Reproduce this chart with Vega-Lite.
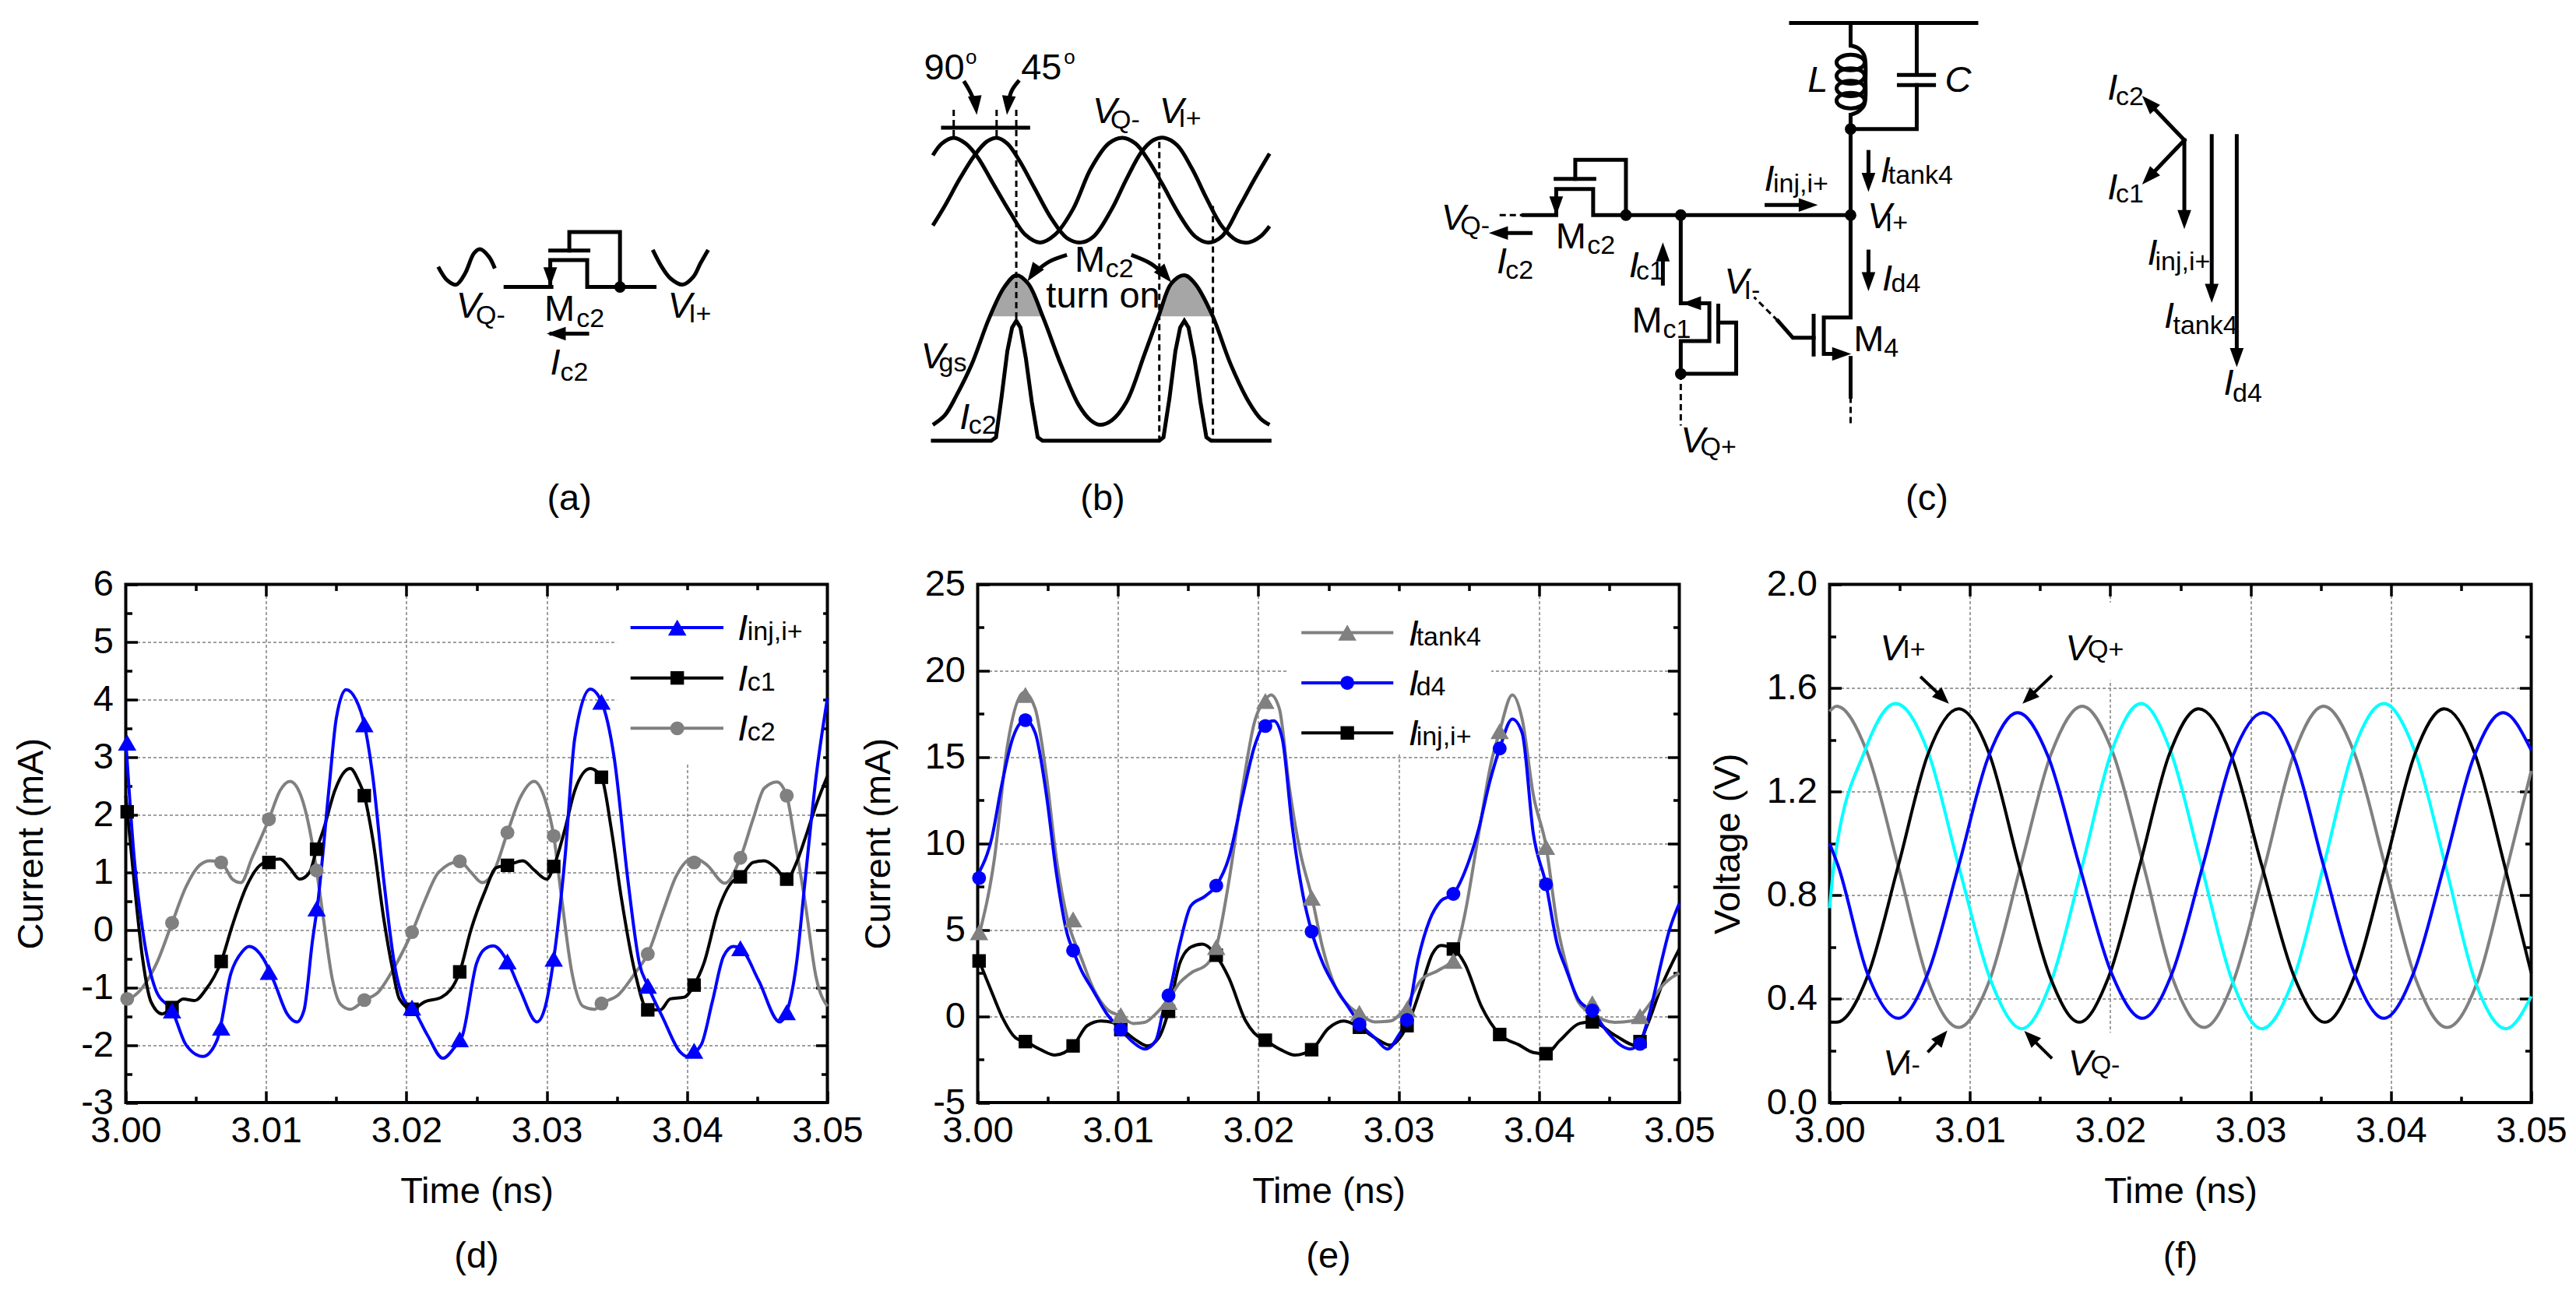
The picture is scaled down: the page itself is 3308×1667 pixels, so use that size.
{"$schema":"https://vega.github.io/schema/vega-lite/v6.json","padding":{"left":14.5,"top":0,"right":0,"bottom":0},"background":"white","bounds":"flush","spacing":70.5,
"config":{"view":{"stroke":"#000","strokeWidth":4},"text":{"font":"Liberation Sans","color":"#000"},"axis":{"labelFont":"Liberation Sans","titleFont":"Liberation Sans","labelFontSize":47,"titleFontSize":47,"labelColor":"#000","titleColor":"#000","titleFontWeight":"normal","tickColor":"#000","tickWidth":3.5,"domain":false,"grid":false,"labelOverlap":false,"labelFlush":false}},
"datasets":{
"sLines":[
{"p":"a1","x":193,"y":850},{"p":"a1","x":270,"y":850},
{"p":"a2","x":268,"y":845},{"p":"a2","x":268,"y":770},{"p":"a2","x":330,"y":770},{"p":"a2","x":330,"y":850},{"p":"a2","x":443,"y":850},
{"p":"a3","x":268,"y":742},{"p":"a3","x":332,"y":742},
{"p":"a4","x":300,"y":742},{"p":"a4","x":300,"y":687},{"p":"a4","x":385,"y":687},{"p":"a4","x":385,"y":850},
{"p":"a5","x":330,"y":988},{"p":"a5","x":270,"y":988},
{"p":"b1","x":927,"y":378},{"p":"b1","x":1070,"y":378},
{"p":"b2","x":910,"y":1305},{"p":"b2","x":1008,"y":1305},{"p":"b2","x":1016,"y":1295},{"p":"b2","x":1025,"y":1180},{"p":"b2","x":1035,"y":1040},{"p":"b2","x":1043,"y":970},{"p":"b2","x":1050,"y":950},{"p":"b2","x":1057,"y":970},{"p":"b2","x":1066,"y":1060},{"p":"b2","x":1076,"y":1190},{"p":"b2","x":1086,"y":1295},{"p":"b2","x":1094,"y":1305},{"p":"b2","x":1290,"y":1305},{"p":"b2","x":1297,"y":1295},{"p":"b2","x":1307,"y":1180},{"p":"b2","x":1317,"y":1040},{"p":"b2","x":1325,"y":970},{"p":"b2","x":1332,"y":950},{"p":"b2","x":1339,"y":970},{"p":"b2","x":1349,"y":1060},{"p":"b2","x":1359,"y":1190},{"p":"b2","x":1369,"y":1295},{"p":"b2","x":1377,"y":1305},{"p":"b2","x":1475,"y":1305},
{"p":"c1","x":2350,"y":68},{"p":"c1","x":2661,"y":68},
{"p":"c2","x":2450,"y":68},{"p":"c2","x":2450,"y":135},
{"p":"c3","x":2561,"y":68},{"p":"c3","x":2561,"y":218},
{"p":"c4","x":2531,"y":222},{"p":"c4","x":2590,"y":222},
{"p":"c5","x":2531,"y":252},{"p":"c5","x":2590,"y":252},
{"p":"c6","x":2561,"y":252},{"p":"c6","x":2561,"y":382},{"p":"c6","x":2450,"y":382},
{"p":"c7","x":2450,"y":340},{"p":"c7","x":2450,"y":940},{"p":"c7","x":2405,"y":940},{"p":"c7","x":2405,"y":1048},{"p":"c7","x":2438,"y":1048},
{"p":"c8","x":2450,"y":1060},{"p":"c8","x":2450,"y":1175},
{"p":"c9","x":2388,"y":935},{"p":"c9","x":2388,"y":1050},
{"p":"c10","x":2388,"y":1000},{"p":"c10","x":2353,"y":1000},{"p":"c10","x":2328,"y":950},
{"p":"c11","x":1901,"y":637},{"p":"c11","x":1956,"y":637},{"p":"c11","x":1956,"y":560},{"p":"c11","x":2018,"y":560},{"p":"c11","x":2018,"y":637},{"p":"c11","x":2450,"y":637},
{"p":"c12","x":1955,"y":530},{"p":"c12","x":2020,"y":530},
{"p":"c13","x":1988,"y":530},{"p":"c13","x":1988,"y":473},{"p":"c13","x":2073,"y":473},{"p":"c13","x":2073,"y":637},
{"p":"c14","x":2165,"y":637},{"p":"c14","x":2165,"y":898},{"p":"c14","x":2213,"y":898},{"p":"c14","x":2213,"y":1010},{"p":"c14","x":2165,"y":1010},{"p":"c14","x":2165,"y":1108},
{"p":"c15","x":2228,"y":905},{"p":"c15","x":2228,"y":1012},
{"p":"c16","x":2228,"y":955},{"p":"c16","x":2258,"y":955},{"p":"c16","x":2258,"y":1107},{"p":"c16","x":2165,"y":1107},
{"p":"c17","x":2309,"y":607},{"p":"c17","x":2378,"y":607},
{"p":"c18","x":2480,"y":450},{"p":"c18","x":2480,"y":545},
{"p":"c19","x":2480,"y":745},{"p":"c19","x":2480,"y":840},
{"p":"c20","x":2135,"y":840},{"p":"c20","x":2135,"y":740},
{"p":"c21","x":1913,"y":690},{"p":"c21","x":1859,"y":690},
{"p":"c22","x":3010,"y":415},{"p":"c22","x":2950,"y":304},
{"p":"c23","x":3010,"y":415},{"p":"c23","x":2950,"y":526},
{"p":"c24","x":3010,"y":415},{"p":"c24","x":3010,"y":655},
{"p":"c25","x":3056,"y":403},{"p":"c25","x":3056,"y":875},
{"p":"c26","x":3098,"y":403},{"p":"c26","x":3098,"y":1065}],
"sDash":[
{"p":"d1","x":945,"y":325},{"p":"d1","x":945,"y":408},
{"p":"d2","x":1017,"y":325},{"p":"d2","x":1017,"y":408},
{"p":"d3","x":1050,"y":325},{"p":"d3","x":1050,"y":950},
{"p":"d4","x":1290,"y":420},{"p":"d4","x":1290,"y":1300},
{"p":"d5","x":1380,"y":610},{"p":"d5","x":1380,"y":1300},
{"p":"d6","x":1861,"y":637},{"p":"d6","x":1901,"y":637},
{"p":"d7","x":2328,"y":950},{"p":"d7","x":2288,"y":880},
{"p":"d8","x":2165,"y":1107},{"p":"d8","x":2165,"y":1260},
{"p":"d9","x":2450,"y":1175},{"p":"d9","x":2450,"y":1260}],
"sCurves":[
{"p":"s1","x":80,"y":790},{"p":"s1","x":95,"y":830},{"p":"s1","x":110,"y":843},{"p":"s1","x":125,"y":810},{"p":"s1","x":140,"y":750},{"p":"s1","x":150,"y":738},{"p":"s1","x":165,"y":760},{"p":"s1","x":175,"y":795},
{"p":"s2","x":440,"y":740},{"p":"s2","x":455,"y":790},{"p":"s2","x":470,"y":825},{"p":"s2","x":490,"y":843},{"p":"s2","x":508,"y":820},{"p":"s2","x":520,"y":780},{"p":"s2","x":533,"y":740},
{"p":"q1","x":910,"y":460},{"p":"q1","x":925,"y":425},{"p":"q1","x":945,"y":408},{"p":"q1","x":965,"y":425},{"p":"q1","x":985,"y":465},{"p":"q1","x":1010,"y":540},{"p":"q1","x":1040,"y":630},{"p":"q1","x":1065,"y":695},{"p":"q1","x":1090,"y":718},{"p":"q1","x":1115,"y":695},{"p":"q1","x":1145,"y":620},{"p":"q1","x":1175,"y":500},{"p":"q1","x":1205,"y":425},{"p":"q1","x":1228,"y":408},{"p":"q1","x":1250,"y":425},{"p":"q1","x":1270,"y":470},{"p":"q1","x":1295,"y":545},{"p":"q1","x":1325,"y":640},{"p":"q1","x":1350,"y":700},{"p":"q1","x":1372,"y":718},{"p":"q1","x":1395,"y":700},{"p":"q1","x":1425,"y":610},{"p":"q1","x":1450,"y":530},{"p":"q1","x":1475,"y":455},
{"p":"q2","x":910,"y":668},{"p":"q2","x":930,"y":610},{"p":"q2","x":955,"y":530},{"p":"q2","x":980,"y":460},{"p":"q2","x":1000,"y":420},{"p":"q2","x":1017,"y":408},{"p":"q2","x":1035,"y":425},{"p":"q2","x":1055,"y":475},{"p":"q2","x":1080,"y":555},{"p":"q2","x":1110,"y":650},{"p":"q2","x":1135,"y":705},{"p":"q2","x":1158,"y":718},{"p":"q2","x":1180,"y":700},{"p":"q2","x":1210,"y":620},{"p":"q2","x":1235,"y":530},{"p":"q2","x":1260,"y":450},{"p":"q2","x":1280,"y":415},{"p":"q2","x":1298,"y":408},{"p":"q2","x":1320,"y":430},{"p":"q2","x":1345,"y":500},{"p":"q2","x":1370,"y":590},{"p":"q2","x":1395,"y":670},{"p":"q2","x":1420,"y":712},{"p":"q2","x":1440,"y":718},{"p":"q2","x":1460,"y":700},{"p":"q2","x":1475,"y":670},
{"p":"vgs","x":910,"y":1258},{"p":"vgs","x":930,"y":1230},{"p":"vgs","x":950,"y":1170},{"p":"vgs","x":975,"y":1080},{"p":"vgs","x":1005,"y":940},{"p":"vgs","x":1030,"y":850},{"p":"vgs","x":1050,"y":815},{"p":"vgs","x":1070,"y":840},{"p":"vgs","x":1095,"y":940},{"p":"vgs","x":1125,"y":1080},{"p":"vgs","x":1155,"y":1200},{"p":"vgs","x":1175,"y":1245},{"p":"vgs","x":1190,"y":1258},{"p":"vgs","x":1210,"y":1245},{"p":"vgs","x":1235,"y":1190},{"p":"vgs","x":1265,"y":1050},{"p":"vgs","x":1290,"y":930},{"p":"vgs","x":1310,"y":840},{"p":"vgs","x":1332,"y":815},{"p":"vgs","x":1350,"y":840},{"p":"vgs","x":1378,"y":930},{"p":"vgs","x":1410,"y":1080},{"p":"vgs","x":1440,"y":1190},{"p":"vgs","x":1460,"y":1240},{"p":"vgs","x":1475,"y":1258},
{"p":"t1","x":962,"y":240},{"p":"t1","x":972,"y":270},{"p":"t1","x":982,"y":310},
{"p":"t2","x":1055,"y":238},{"p":"t2","x":1042,"y":270},{"p":"t2","x":1036,"y":310},
{"p":"t3","x":1135,"y":755},{"p":"t3","x":1105,"y":775},{"p":"t3","x":1082,"y":805},
{"p":"t4","x":1243,"y":755},{"p":"t4","x":1275,"y":780},{"p":"t4","x":1298,"y":812},
{"p":"coil","x":2450,"y":135},{"p":"coil","x":2463,"y":143},{"p":"coil","x":2473,"y":165},{"p":"coil","x":2475,"y":240},{"p":"coil","x":2473,"y":310},{"p":"coil","x":2463,"y":330},{"p":"coil","x":2450,"y":340}],
"sFill":[
{"p":"f1","x":1005,"y":937},{"p":"f1","x":1030,"y":850},{"p":"f1","x":1050,"y":815},{"p":"f1","x":1070,"y":840},{"p":"f1","x":1095,"y":937},
{"p":"f2","x":1290,"y":937},{"p":"f2","x":1310,"y":840},{"p":"f2","x":1332,"y":815},{"p":"f2","x":1350,"y":840},{"p":"f2","x":1378,"y":937}],
"sCoil":[{"x":2450,"y":185},{"x":2450,"y":225},{"x":2450,"y":262},{"x":2450,"y":298}],
"sDots":[{"x":385,"y":850},{"x":2073,"y":637},{"x":2165,"y":637},{"x":2450,"y":637},{"x":2450,"y":382},{"x":2165,"y":1107}],
"sHeads":[
{"x":268,"y":820,"a":180},{"x":278,"y":988,"a":270},{"x":982,"y":312,"a":174},{"x":1036,"y":312,"a":186},{"x":1078,"y":810,"a":215},{"x":1300,"y":815,"a":140},
{"x":1956,"y":610,"a":180},{"x":2435,"y":1048,"a":90},{"x":2183,"y":898,"a":270},{"x":2379,"y":607,"a":90},{"x":2480,"y":540,"a":180},{"x":2480,"y":834,"a":180},{"x":2135,"y":746,"a":0},{"x":1859,"y":690,"a":270},
{"x":2950,"y":304,"a":317},{"x":2950,"y":526,"a":223},{"x":3010,"y":650,"a":180},{"x":3056,"y":869,"a":180},{"x":3098,"y":1059,"a":180}],
"sUpright":[{"x":258,"y":950,"label":"M"},{"x":1148,"y":805,"label":"M"},{"x":1955,"y":735,"label":"M"},{"x":2083,"y":985,"label":"M"},{"x":2455,"y":1040,"label":"M"},{"x":895,"y":235,"label":"90"},{"x":1058,"y":235,"label":"45"},{"x":1100,"y":910,"label":"turn on"}],
"sCaps":[{"x":300,"y":1510,"label":"(a)"},{"x":1195,"y":1510,"label":"(b)"},{"x":2578,"y":1510,"label":"(c)"}],
"sItalic":[{"x":110,"y":940,"label":"V"},{"x":465,"y":940,"label":"V"},{"x":268,"y":1110,"label":"I"},{"x":1178,"y":365,"label":"V"},{"x":1290,"y":365,"label":"V"},{"x":890,"y":1090,"label":"V"},{"x":955,"y":1270,"label":"I"},{"x":1763,"y":680,"label":"V"},{"x":1856,"y":810,"label":"I"},{"x":2305,"y":565,"label":"I"},{"x":2500,"y":540,"label":"I"},{"x":2478,"y":675,"label":"V"},{"x":2503,"y":860,"label":"I"},{"x":2078,"y":820,"label":"I"},{"x":2238,"y":870,"label":"V"},{"x":2165,"y":1340,"label":"V"},{"x":2378,"y":272,"label":"L"},{"x":2608,"y":272,"label":"C"},{"x":2881,"y":295,"label":"I"},{"x":2881,"y":590,"label":"I"},{"x":2948,"y":785,"label":"I"},{"x":2976,"y":970,"label":"I"},{"x":3076,"y":1170,"label":"I"}],
"sSub":[{"x":143,"y":960,"label":"Q-"},{"x":312,"y":968,"label":"c2"},{"x":500,"y":955,"label":"I+"},{"x":285,"y":1128,"label":"c2"},{"x":1208,"y":380,"label":"Q-"},{"x":1322,"y":375,"label":"I+"},{"x":920,"y":1100,"label":"gs"},{"x":970,"y":1285,"label":"c2"},{"x":1200,"y":820,"label":"c2"},{"x":1795,"y":695,"label":"Q-"},{"x":1871,"y":825,"label":"c2"},{"x":2008,"y":752,"label":"c2"},{"x":2320,"y":570,"label":"inj,i+"},{"x":2513,"y":545,"label":"tank4"},{"x":2508,"y":685,"label":"I+"},{"x":2518,"y":865,"label":"d4"},{"x":2090,"y":828,"label":"c1"},{"x":2135,"y":1000,"label":"c1"},{"x":2271,"y":885,"label":"I-"},{"x":2506,"y":1055,"label":"4"},{"x":2198,"y":1350,"label":"Q+"},{"x":2895,"y":312,"label":"c2"},{"x":2895,"y":600,"label":"c1"},{"x":2961,"y":800,"label":"inj,i+"},{"x":2991,"y":990,"label":"tank4"},{"x":3091,"y":1190,"label":"d4"}],
"sSup":[{"x":965,"y":190,"label":"o"},{"x":1130,"y":190,"label":"o"}],

"dBlue":[{"t":3.0000,"v":3.3},{"t":3.0006,"v":1.25},{"t":3.0012,"v":0.0},{"t":3.0022,"v":-1.08},{"t":3.0033,"v":-1.4},{"t":3.0043,"v":-2.0},{"t":3.0055,"v":-2.2},{"t":3.0065,"v":-1.92},{"t":3.0075,"v":-0.75},{"t":3.0083,"v":-0.38},{"t":3.0088,"v":-0.29},{"t":3.0098,"v":-0.5},{"t":3.0106,"v":-0.92},{"t":3.0115,"v":-1.46},{"t":3.0122,"v":-1.6},{"t":3.0127,"v":-1.4},{"t":3.0133,"v":-0.2},{"t":3.0137,"v":0.5},{"t":3.0145,"v":2.5},{"t":3.0150,"v":3.67},{"t":3.0157,"v":4.17},{"t":3.0164,"v":4.0},{"t":3.0170,"v":3.57},{"t":3.0176,"v":2.67},{"t":3.0184,"v":0.83},{"t":3.0192,"v":-0.67},{"t":3.0199,"v":-1.25},{"t":3.0204,"v":-1.35},{"t":3.0215,"v":-1.83},{"t":3.0226,"v":-2.23},{"t":3.0234,"v":-2.05},{"t":3.0240,"v":-1.83},{"t":3.0250,"v":-0.58},{"t":3.0256,"v":-0.33},{"t":3.0262,"v":-0.28},{"t":3.0272,"v":-0.55},{"t":3.0281,"v":-1.04},{"t":3.0293,"v":-1.6},{"t":3.0299,"v":-1.33},{"t":3.0305,"v":-0.5},{"t":3.0313,"v":1.25},{"t":3.0320,"v":3.33},{"t":3.0331,"v":4.18},{"t":3.0339,"v":3.96},{"t":3.0348,"v":3.0},{"t":3.0358,"v":0.83},{"t":3.0366,"v":-0.58},{"t":3.0372,"v":-0.97},{"t":3.0383,"v":-1.54},{"t":3.0395,"v":-2.12},{"t":3.0400,"v":-2.2},{"t":3.0410,"v":-2.0},{"t":3.0418,"v":-1.25},{"t":3.0426,"v":-0.46},{"t":3.0433,"v":-0.29},{"t":3.0438,"v":-0.32},{"t":3.0451,"v":-0.88},{"t":3.0466,"v":-1.6},{"t":3.0471,"v":-1.43},{"t":3.0478,"v":-0.58},{"t":3.0484,"v":0.83},{"t":3.0492,"v":2.67},{"t":3.0500,"v":4.02},{"t":3.03597,"v":5.25,"k":"key"},{"t":3.04259,"v":5.25,"k":"key"}],
"dBlack":[{"t":3.0000,"v":2.33},{"t":3.0006,"v":0.83},{"t":3.0012,"v":-0.5},{"t":3.0018,"v":-1.25},{"t":3.0026,"v":-1.46},{"t":3.0033,"v":-1.35},{"t":3.0041,"v":-1.2},{"t":3.0049,"v":-1.23},{"t":3.0057,"v":-1.04},{"t":3.0068,"v":-0.55},{"t":3.0076,"v":0.08},{"t":3.0086,"v":0.75},{"t":3.0094,"v":1.08},{"t":3.0102,"v":1.2},{"t":3.0110,"v":1.23},{"t":3.0117,"v":1.07},{"t":3.0124,"v":0.88},{"t":3.0131,"v":1.0},{"t":3.0136,"v":1.4},{"t":3.0141,"v":1.75},{"t":3.0149,"v":2.42},{"t":3.0156,"v":2.75},{"t":3.0160,"v":2.8},{"t":3.0166,"v":2.58},{"t":3.0170,"v":2.33},{"t":3.0176,"v":1.58},{"t":3.0184,"v":0.17},{"t":3.0190,"v":-0.67},{"t":3.0195,"v":-1.2},{"t":3.0204,"v":-1.38},{"t":3.0213,"v":-1.25},{"t":3.0225,"v":-1.17},{"t":3.0238,"v":-0.73},{"t":3.0246,"v":0.0},{"t":3.0256,"v":0.67},{"t":3.0264,"v":1.08},{"t":3.0272,"v":1.12},{"t":3.0283,"v":1.2},{"t":3.0291,"v":1.04},{"t":3.0300,"v":0.88},{"t":3.0305,"v":1.1},{"t":3.0313,"v":1.75},{"t":3.0320,"v":2.42},{"t":3.0331,"v":2.8},{"t":3.0339,"v":2.65},{"t":3.0346,"v":1.75},{"t":3.0353,"v":0.58},{"t":3.0363,"v":-0.75},{"t":3.0372,"v":-1.39},{"t":3.0381,"v":-1.39},{"t":3.0388,"v":-1.2},{"t":3.0398,"v":-1.17},{"t":3.0405,"v":-0.96},{"t":3.0412,"v":-0.58},{"t":3.0422,"v":0.33},{"t":3.0432,"v":0.83},{"t":3.0438,"v":0.92},{"t":3.0447,"v":1.17},{"t":3.0455,"v":1.2},{"t":3.0463,"v":1.08},{"t":3.0471,"v":0.88},{"t":3.0478,"v":1.17},{"t":3.0484,"v":1.58},{"t":3.0492,"v":2.17},{"t":3.0500,"v":2.67},{"t":3.03597,"v":4.375,"k":"key"},{"t":3.04259,"v":4.375,"k":"key"}],
"dGray":[{"t":3.0000,"v":-1.25},{"t":3.0012,"v":-1.0},{"t":3.0022,"v":-0.58},{"t":3.0033,"v":0.12},{"t":3.0043,"v":0.75},{"t":3.0053,"v":1.13},{"t":3.0060,"v":1.2},{"t":3.0068,"v":1.17},{"t":3.0076,"v":0.88},{"t":3.0082,"v":0.82},{"t":3.0090,"v":1.25},{"t":3.0102,"v":1.92},{"t":3.0110,"v":2.42},{"t":3.0117,"v":2.58},{"t":3.0124,"v":2.38},{"t":3.0131,"v":1.75},{"t":3.0136,"v":1.03},{"t":3.0141,"v":0.17},{"t":3.0147,"v":-0.83},{"t":3.0153,"v":-1.29},{"t":3.0160,"v":-1.38},{"t":3.0170,"v":-1.22},{"t":3.0180,"v":-1.08},{"t":3.0191,"v":-0.67},{"t":3.0204,"v":-0.04},{"t":3.0213,"v":0.5},{"t":3.0223,"v":1.0},{"t":3.0238,"v":1.19},{"t":3.0246,"v":1.0},{"t":3.0254,"v":0.82},{"t":3.0262,"v":1.0},{"t":3.0272,"v":1.69},{"t":3.0281,"v":2.29},{"t":3.0291,"v":2.58},{"t":3.0299,"v":2.25},{"t":3.0305,"v":1.63},{"t":3.0310,"v":0.67},{"t":3.0318,"v":-0.75},{"t":3.0326,"v":-1.33},{"t":3.0334,"v":-1.38},{"t":3.0339,"v":-1.28},{"t":3.0351,"v":-1.13},{"t":3.0363,"v":-0.75},{"t":3.0372,"v":-0.42},{"t":3.0383,"v":0.33},{"t":3.0392,"v":0.92},{"t":3.0405,"v":1.25},{"t":3.0414,"v":1.13},{"t":3.0427,"v":0.81},{"t":3.0438,"v":1.25},{"t":3.0447,"v":1.92},{"t":3.0455,"v":2.46},{"t":3.0464,"v":2.57},{"t":3.0471,"v":2.33},{"t":3.0476,"v":1.67},{"t":3.0484,"v":0.5},{"t":3.0492,"v":-0.83},{"t":3.0500,"v":-1.33},{"t":3.03597,"v":3.5,"k":"key"},{"t":3.04259,"v":3.5,"k":"key"}],
"dBlueM":[{"t":3.0001,"v":3.25},{"t":3.0033,"v":-1.4},{"t":3.0068,"v":-1.7},{"t":3.0102,"v":-0.73},{"t":3.0136,"v":0.37},{"t":3.0170,"v":3.57},{"t":3.0204,"v":-1.35},{"t":3.0238,"v":-1.9},{"t":3.0272,"v":-0.55},{"t":3.0305,"v":-0.5},{"t":3.0339,"v":3.96},{"t":3.0372,"v":-0.97},{"t":3.0405,"v":-2.1},{"t":3.0438,"v":-0.32},{"t":3.0471,"v":-1.43},{"t":3.0393,"v":5.25}],
"dBlackM":[{"t":3.0001,"v":2.05},{"t":3.0033,"v":-1.35},{"t":3.0068,"v":-0.55},{"t":3.0102,"v":1.17},{"t":3.0136,"v":1.4},{"t":3.0170,"v":2.33},{"t":3.0204,"v":-1.38},{"t":3.0238,"v":-0.73},{"t":3.0272,"v":1.12},{"t":3.0305,"v":1.1},{"t":3.0339,"v":2.65},{"t":3.0372,"v":-1.39},{"t":3.0405,"v":-0.96},{"t":3.0438,"v":0.92},{"t":3.0471,"v":0.88},{"t":3.0393,"v":4.375}],
"dGrayM":[{"t":3.0001,"v":-1.2},{"t":3.0033,"v":0.12},{"t":3.0068,"v":1.17},{"t":3.0102,"v":1.92},{"t":3.0136,"v":1.03},{"t":3.0170,"v":-1.22},{"t":3.0204,"v":-0.04},{"t":3.0238,"v":1.19},{"t":3.0272,"v":1.69},{"t":3.0305,"v":1.63},{"t":3.0339,"v":-1.28},{"t":3.0372,"v":-0.42},{"t":3.0405,"v":1.17},{"t":3.0438,"v":1.25},{"t":3.0471,"v":2.33},{"t":3.0393,"v":3.5}],
"dBox":[{"t":3.035,"t2":3.0497,"v":2.9,"v2":5.9}],
"dItalic":[{"t":3.0436,"v":5.03,"label":"I"},{"t":3.0436,"v":4.15,"label":"I"},{"t":3.0436,"v":3.29,"label":"I"}],
"dSub":[{"t":3.0443,"v":5.03,"label":"inj,i+"},{"t":3.0443,"v":4.15,"label":"c1"},{"t":3.0443,"v":3.29,"label":"c2"}],
"dCap":[{"t":3.025,"v":-5.87,"label":"(d)"}],

"eGray":[{"t":3.0001,"v":4.7},{"t":3.0012,"v":9.17},{"t":3.0021,"v":15.55},{"t":3.0033,"v":18.75},{"t":3.0041,"v":17.8},{"t":3.0049,"v":13.9},{"t":3.0056,"v":9.17},{"t":3.0064,"v":5.6},{"t":3.0074,"v":3.33},{"t":3.0082,"v":1.67},{"t":3.0092,"v":0.42},{"t":3.0102,"v":0.0},{"t":3.0111,"v":-0.42},{"t":3.0119,"v":-0.36},{"t":3.0127,"v":0.14},{"t":3.0136,"v":0.97},{"t":3.0144,"v":1.94},{"t":3.0152,"v":2.5},{"t":3.0164,"v":3.06},{"t":3.0170,"v":4.0},{"t":3.0179,"v":7.8},{"t":3.0189,"v":13.33},{"t":3.0197,"v":16.94},{"t":3.0205,"v":18.33},{"t":3.0209,"v":18.6},{"t":3.0215,"v":17.8},{"t":3.0222,"v":13.3},{"t":3.0230,"v":9.44},{"t":3.0238,"v":6.94},{"t":3.0246,"v":3.9},{"t":3.0255,"v":1.67},{"t":3.0265,"v":0.56},{"t":3.0272,"v":0.14},{"t":3.0283,"v":-0.33},{"t":3.0294,"v":-0.28},{"t":3.0304,"v":0.42},{"t":3.0316,"v":2.1},{"t":3.0328,"v":2.64},{"t":3.0339,"v":3.33},{"t":3.0347,"v":5.83},{"t":3.0357,"v":10.55},{"t":3.0366,"v":14.7},{"t":3.0372,"v":16.5},{"t":3.0381,"v":18.6},{"t":3.0388,"v":17.2},{"t":3.0396,"v":12.8},{"t":3.0405,"v":9.86},{"t":3.0413,"v":5.3},{"t":3.0421,"v":2.5},{"t":3.0428,"v":0.83},{"t":3.0438,"v":0.14},{"t":3.0454,"v":-0.36},{"t":3.0466,"v":-0.28},{"t":3.0472,"v":0.0},{"t":3.0480,"v":0.83},{"t":3.0487,"v":1.67},{"t":3.0500,"v":2.5},{"t":3.02307,"v":22.2,"k":"key"},{"t":3.02962,"v":22.2,"k":"key"}],
"eBlue":[{"t":3.0001,"v":8.33},{"t":3.0010,"v":10.3},{"t":3.0017,"v":13.33},{"t":3.0025,"v":16.1},{"t":3.0034,"v":17.14},{"t":3.0041,"v":16.4},{"t":3.0049,"v":12.8},{"t":3.0056,"v":8.33},{"t":3.0064,"v":4.7},{"t":3.0068,"v":3.8},{"t":3.0074,"v":2.64},{"t":3.0082,"v":1.53},{"t":3.0092,"v":0.14},{"t":3.0102,"v":-0.78},{"t":3.0111,"v":-1.53},{"t":3.0119,"v":-1.9},{"t":3.0127,"v":-1.4},{"t":3.0133,"v":0.56},{"t":3.0136,"v":1.2},{"t":3.0144,"v":4.17},{"t":3.0152,"v":6.4},{"t":3.0162,"v":6.94},{"t":3.0170,"v":7.56},{"t":3.0179,"v":9.17},{"t":3.0189,"v":12.8},{"t":3.0197,"v":15.55},{"t":3.0205,"v":16.94},{"t":3.0211,"v":17.1},{"t":3.0217,"v":16.1},{"t":3.0224,"v":11.1},{"t":3.0232,"v":6.94},{"t":3.0238,"v":4.9},{"t":3.0246,"v":3.06},{"t":3.0255,"v":1.67},{"t":3.0265,"v":0.42},{"t":3.0272,"v":-0.4},{"t":3.0283,"v":-1.25},{"t":3.0292,"v":-1.9},{"t":3.0300,"v":-1.1},{"t":3.0306,"v":-0.14},{"t":3.0314,"v":3.33},{"t":3.0322,"v":5.55},{"t":3.0330,"v":6.67},{"t":3.0339,"v":7.08},{"t":3.0347,"v":8.33},{"t":3.0357,"v":10.83},{"t":3.0365,"v":13.6},{"t":3.0372,"v":15.5},{"t":3.0381,"v":17.2},{"t":3.0388,"v":16.4},{"t":3.0396,"v":10.55},{"t":3.0405,"v":7.64},{"t":3.0413,"v":4.17},{"t":3.0419,"v":2.8},{"t":3.0428,"v":0.97},{"t":3.0438,"v":0.28},{"t":3.0448,"v":-0.83},{"t":3.0458,"v":-1.67},{"t":3.0465,"v":-1.9},{"t":3.0472,"v":-1.5},{"t":3.0480,"v":0.56},{"t":3.0487,"v":3.06},{"t":3.0493,"v":5.0},{"t":3.0500,"v":6.53},{"t":3.02307,"v":19.3,"k":"key"},{"t":3.02962,"v":19.3,"k":"key"}],
"eBlack":[{"t":3.0001,"v":3.2},{"t":3.0010,"v":1.4},{"t":3.0018,"v":-0.14},{"t":3.0027,"v":-1.25},{"t":3.0034,"v":-1.47},{"t":3.0045,"v":-1.94},{"t":3.0055,"v":-2.25},{"t":3.0068,"v":-1.72},{"t":3.0078,"v":-0.55},{"t":3.0088,"v":-0.28},{"t":3.0096,"v":-0.36},{"t":3.0102,"v":-0.7},{"t":3.0113,"v":-1.4},{"t":3.0121,"v":-1.72},{"t":3.0129,"v":-1.25},{"t":3.0136,"v":0.28},{"t":3.0144,"v":3.06},{"t":3.0152,"v":4.0},{"t":3.0160,"v":4.17},{"t":3.0166,"v":3.9},{"t":3.0170,"v":3.5},{"t":3.0179,"v":2.22},{"t":3.0191,"v":-0.28},{"t":3.0197,"v":-0.97},{"t":3.0205,"v":-1.4},{"t":3.0216,"v":-1.94},{"t":3.0226,"v":-2.25},{"t":3.0238,"v":-1.94},{"t":3.0250,"v":-0.7},{"t":3.0261,"v":-0.28},{"t":3.0272,"v":-0.64},{"t":3.0283,"v":-1.25},{"t":3.0294,"v":-1.67},{"t":3.0306,"v":-0.55},{"t":3.0316,"v":1.67},{"t":3.0324,"v":3.6},{"t":3.0330,"v":4.1},{"t":3.0339,"v":3.9},{"t":3.0347,"v":3.06},{"t":3.0359,"v":0.56},{"t":3.0372,"v":-1.06},{"t":3.0386,"v":-1.67},{"t":3.0396,"v":-2.1},{"t":3.0405,"v":-2.17},{"t":3.0415,"v":-1.4},{"t":3.0429,"v":-0.42},{"t":3.0438,"v":-0.33},{"t":3.0454,"v":-1.1},{"t":3.0470,"v":-1.72},{"t":3.0477,"v":-0.55},{"t":3.0487,"v":1.67},{"t":3.0500,"v":3.9},{"t":3.02307,"v":16.4,"k":"key"},{"t":3.02962,"v":16.4,"k":"key"}],
"eGrayM":[{"t":3.0001,"v":4.86},{"t":3.0034,"v":18.6},{"t":3.0068,"v":5.6},{"t":3.0102,"v":0.06},{"t":3.0136,"v":0.83},{"t":3.0170,"v":4.0},{"t":3.0205,"v":18.25},{"t":3.0238,"v":6.86},{"t":3.0272,"v":0.2},{"t":3.0306,"v":0.42},{"t":3.0339,"v":3.2},{"t":3.0372,"v":16.5},{"t":3.0405,"v":9.8},{"t":3.0438,"v":0.75},{"t":3.0472,"v":0.0},{"t":3.02634,"v":22.2}],
"eBlueM":[{"t":3.0001,"v":8.0},{"t":3.0034,"v":17.14},{"t":3.0068,"v":3.8},{"t":3.0102,"v":-0.78},{"t":3.0136,"v":1.2},{"t":3.0170,"v":7.56},{"t":3.0205,"v":16.8},{"t":3.0238,"v":4.9},{"t":3.0272,"v":-0.47},{"t":3.0306,"v":-0.22},{"t":3.0339,"v":7.08},{"t":3.0372,"v":15.5},{"t":3.0405,"v":7.64},{"t":3.0438,"v":0.33},{"t":3.0472,"v":-1.6},{"t":3.02634,"v":19.3}],
"eBlackM":[{"t":3.0001,"v":3.2},{"t":3.0034,"v":-1.47},{"t":3.0068,"v":-1.72},{"t":3.0102,"v":-0.78},{"t":3.0136,"v":0.28},{"t":3.0170,"v":3.53},{"t":3.0205,"v":-1.39},{"t":3.0238,"v":-1.94},{"t":3.0272,"v":-0.64},{"t":3.0306,"v":-0.55},{"t":3.0339,"v":3.89},{"t":3.0372,"v":-1.06},{"t":3.0405,"v":-2.17},{"t":3.0438,"v":-0.33},{"t":3.0472,"v":-1.47},{"t":3.02634,"v":16.4}],
"eBox":[{"t":3.0221,"t2":3.0366,"v":15.15,"v2":24.6}],
"eItalic":[{"t":3.0307,"v":21.47,"label":"I"},{"t":3.0307,"v":18.56,"label":"I"},{"t":3.0307,"v":15.7,"label":"I"}],
"eSub":[{"t":3.03125,"v":21.47,"label":"tank4"},{"t":3.03125,"v":18.56,"label":"d4"},{"t":3.03125,"v":15.7,"label":"inj,i+"}],
"eCap":[{"t":3.025,"v":-14.56,"label":"(e)"}],

"fBlack":[{"t":3.0000,"v":0.31},{"t":3.0005,"v":0.31},{"t":3.0027,"v":0.487},{"t":3.0049,"v":0.915},{"t":3.0070,"v":1.343},{"t":3.0092,"v":1.52},{"t":3.0114,"v":1.343},{"t":3.0135,"v":0.915},{"t":3.0157,"v":0.487},{"t":3.0178,"v":0.31},{"t":3.0199,"v":0.487},{"t":3.0221,"v":0.915},{"t":3.0242,"v":1.343},{"t":3.0263,"v":1.52},{"t":3.0286,"v":1.343},{"t":3.0308,"v":0.915},{"t":3.0331,"v":0.487},{"t":3.0353,"v":0.31},{"t":3.0374,"v":0.487},{"t":3.0396,"v":0.915},{"t":3.0417,"v":1.343},{"t":3.0438,"v":1.52},{"t":3.0460,"v":1.343},{"t":3.0481,"v":0.915},{"t":3.0500,"v":0.5}],
"fBlue":[{"t":3.0000,"v":1.0},{"t":3.0006,"v":0.915},{"t":3.0027,"v":0.498},{"t":3.0049,"v":0.325},{"t":3.0070,"v":0.498},{"t":3.0092,"v":0.915},{"t":3.0113,"v":1.332},{"t":3.0134,"v":1.505},{"t":3.0156,"v":1.332},{"t":3.0178,"v":0.915},{"t":3.0201,"v":0.498},{"t":3.0223,"v":0.325},{"t":3.0244,"v":0.498},{"t":3.0266,"v":0.915},{"t":3.0287,"v":1.332},{"t":3.0309,"v":1.505},{"t":3.0331,"v":1.332},{"t":3.0352,"v":0.915},{"t":3.0374,"v":0.498},{"t":3.0395,"v":0.325},{"t":3.0416,"v":0.498},{"t":3.0438,"v":0.915},{"t":3.0459,"v":1.332},{"t":3.0480,"v":1.505},{"t":3.0500,"v":1.36}],
"fGray":[{"t":3.0000,"v":1.51},{"t":3.0005,"v":1.53},{"t":3.0027,"v":1.348},{"t":3.0049,"v":0.91},{"t":3.0070,"v":0.472},{"t":3.0092,"v":0.29},{"t":3.0114,"v":0.472},{"t":3.0136,"v":0.91},{"t":3.0158,"v":1.348},{"t":3.0180,"v":1.53},{"t":3.0202,"v":1.348},{"t":3.0224,"v":0.91},{"t":3.0245,"v":0.472},{"t":3.0267,"v":0.29},{"t":3.0288,"v":0.472},{"t":3.0310,"v":0.91},{"t":3.0331,"v":1.348},{"t":3.0352,"v":1.53},{"t":3.0374,"v":1.348},{"t":3.0396,"v":0.91},{"t":3.0418,"v":0.472},{"t":3.0440,"v":0.29},{"t":3.0462,"v":0.472},{"t":3.0483,"v":0.91},{"t":3.0500,"v":1.28}],
"fCyan":[{"t":3.0000,"v":0.75},{"t":3.0003,"v":0.9125},{"t":3.0025,"v":1.356},{"t":3.0047,"v":1.54},{"t":3.0070,"v":1.356},{"t":3.0092,"v":0.9125},{"t":3.0115,"v":0.469},{"t":3.0137,"v":0.285},{"t":3.0158,"v":0.469},{"t":3.0180,"v":0.9125},{"t":3.0201,"v":1.356},{"t":3.0222,"v":1.54},{"t":3.0243,"v":1.356},{"t":3.0265,"v":0.9125},{"t":3.0287,"v":0.469},{"t":3.0308,"v":0.285},{"t":3.0330,"v":0.469},{"t":3.0352,"v":0.9125},{"t":3.0373,"v":1.356},{"t":3.0395,"v":1.54},{"t":3.0417,"v":1.356},{"t":3.0439,"v":0.9125},{"t":3.0460,"v":0.469},{"t":3.0482,"v":0.285},{"t":3.0500,"v":0.41}],
"fBox":[{"t":3.0165,"t2":3.0215,"v":1.63,"v2":1.93},{"t":3.0165,"t2":3.0215,"v":0.02,"v2":0.27}],
"fArrows":[{"p":"a","t":3.00647,"v":1.644},{"p":"a","t":3.00807,"v":1.562},{"p":"b","t":3.01585,"v":1.648},{"p":"b","t":3.01418,"v":1.562},{"p":"c","t":3.00699,"v":0.194},{"p":"c","t":3.008,"v":0.253},{"p":"d","t":3.01585,"v":0.17},{"p":"d","t":3.0143,"v":0.253}],
"fHeads":[{"t":3.00807,"v":1.562,"a":134},{"t":3.01418,"v":1.562,"a":226},{"t":3.008,"v":0.253,"a":40},{"t":3.0143,"v":0.253,"a":315}],
"fItalic":[{"t":3.0036,"v":1.707,"label":"V"},{"t":3.0168,"v":1.707,"label":"V"},{"t":3.0038,"v":0.105,"label":"V"},{"t":3.017,"v":0.105,"label":"V"}],
"fSub":[{"t":3.0052,"v":1.717,"label":"I+"},{"t":3.0184,"v":1.717,"label":"Q+"},{"t":3.0053,"v":0.11,"label":"I-"},{"t":3.0186,"v":0.11,"label":"Q-"}],
"fCap":[{"t":3.025,"v":-0.637,"label":"(f)"}]
},
"vconcat":[
{"width":3090,"height":680,"view":{"stroke":null},
"encoding":{"x":{"field":"x","type":"quantitative","scale":{"domain":[-444.3,3593.4],"nice":false,"zero":false},"axis":null},"y":{"field":"y","type":"quantitative","scale":{"domain":[1568,0],"nice":false,"zero":false},"axis":null}},
"layer":[
{"data":{"name":"sFill"},"mark":{"type":"area","color":"#a6a6a6","order":false},"encoding":{"detail":{"field":"p"},"y2":{"datum":937}}},
{"data":{"name":"sLines"},"mark":{"type":"line","color":"#000","strokeWidth":5,"order":false,"strokeCap":"square"},"encoding":{"detail":{"field":"p"}}},
{"data":{"name":"sDash"},"mark":{"type":"line","color":"#000","strokeWidth":3,"strokeDash":[8,5],"order":false},"encoding":{"detail":{"field":"p"}}},
{"data":{"name":"sCurves"},"mark":{"type":"line","color":"#000","strokeWidth":5,"interpolate":"catmull-rom","order":false},"encoding":{"detail":{"field":"p"}}},
{"data":{"name":"sCoil"},"mark":{"type":"point","filled":false,"color":"#000","strokeWidth":5,"opacity":1,"size":1300,"shape":"M-1,0A1,0.55 0 1,1 1,0A1,0.55 0 1,1 -1,0Z"}},
{"data":{"name":"sDots"},"mark":{"type":"point","filled":true,"color":"#000","opacity":1,"size":220,"shape":"circle"}},
{"data":{"name":"sHeads"},"mark":{"type":"point","filled":true,"color":"#000","opacity":1,"size":2400,"shape":"M0,-0.5L0.36,0.5L-0.36,0.5Z"},"encoding":{"angle":{"field":"a","type":"quantitative","scale":null}}},
{"data":{"name":"sUpright"},"mark":{"type":"text","align":"left","baseline":"alphabetic","fontSize":47},"encoding":{"text":{"field":"label"}}},
{"data":{"name":"sCaps"},"mark":{"type":"text","align":"center","baseline":"alphabetic","fontSize":47},"encoding":{"text":{"field":"label"}}},
{"data":{"name":"sItalic"},"mark":{"type":"text","align":"left","baseline":"alphabetic","fontSize":47,"fontStyle":"italic"},"encoding":{"text":{"field":"label"}}},
{"data":{"name":"sSub"},"mark":{"type":"text","align":"left","baseline":"alphabetic","fontSize":34},"encoding":{"text":{"field":"label"}}},
{"data":{"name":"sSup"},"mark":{"type":"text","align":"left","baseline":"alphabetic","fontSize":26},"encoding":{"text":{"field":"label"}}}
]},
{"hconcat":[
{"width":901,"height":665.5,"resolve":{"axis":{"x":"independent","y":"independent"}},
"encoding":{"x":{"field":"t","type":"quantitative","scale":{"domain":[3,3.05],"nice":false,"zero":false},"axis":null},"y":{"field":"v","type":"quantitative","scale":{"domain":[-3,6],"nice":false,"zero":false},"axis":null}},
"layer":[
{"data":{"name":"dBox"},"mark":{"type":"rect","color":"#fff"},"encoding":{"x":{"field":"t","type":"quantitative","scale":{"domain":[3,3.05],"nice":false,"zero":false},"axis":{"orient":"bottom","values":[3.01,3.02,3.03,3.04],"grid":true,"labels":false,"ticks":false,"title":null,"gridColor":"#808080","gridDash":[4,3],"gridWidth":1.5}},"x2":{"field":"t2"},"y":{"field":"v","type":"quantitative","scale":{"domain":[-3,6],"nice":false,"zero":false},"axis":{"orient":"left","values":[-2,-1,0,1,2,3,4,5],"grid":true,"labels":false,"ticks":false,"title":null,"gridColor":"#808080","gridDash":[4,3],"gridWidth":1.5}},"y2":{"field":"v2"}}},
{"data":{"name":"dGray"},"mark":{"type":"line","color":"#808080","strokeWidth":4,"interpolate":"monotone"},"encoding":{"detail":{"field":"k"},"x":{"field":"t","type":"quantitative","scale":{"domain":[3,3.05],"nice":false,"zero":false},"axis":{"orient":"bottom","values":[3,3.01,3.02,3.03,3.04,3.05],"format":".2f","tickSize":-15,"labelPadding":28.5,"title":"Time (ns)","titlePadding":32}},"y":{"field":"v","type":"quantitative","scale":{"domain":[-3,6],"nice":false,"zero":false},"axis":{"orient":"left","values":[-3,-2,-1,0,1,2,3,4,5,6],"labelExpr":"datum.value<0?'-'+abs(datum.value):''+datum.value","tickSize":-15,"labelPadding":31,"title":"Current (mA)","titlePadding":39}}}},
{"data":{"name":"dBlack"},"mark":{"type":"line","color":"#000","strokeWidth":4,"interpolate":"monotone"},"encoding":{"detail":{"field":"k"},"x":{"field":"t","type":"quantitative","scale":{"domain":[3,3.05],"nice":false,"zero":false},"axis":{"orient":"top","values":[3.01,3.02,3.03,3.04],"labels":false,"tickSize":-15,"title":null}},"y":{"field":"v","type":"quantitative","scale":{"domain":[-3,6],"nice":false,"zero":false},"axis":{"orient":"right","values":[-2,-1,0,1,2,3,4,5],"labels":false,"tickSize":-15,"title":null}}}},
{"data":{"name":"dBlue"},"mark":{"type":"line","color":"#0000ff","strokeWidth":4,"interpolate":"monotone"},"encoding":{"detail":{"field":"k"},"x":{"field":"t","type":"quantitative","scale":{"domain":[3,3.05],"nice":false,"zero":false},"axis":{"orient":"bottom","values":[3.005,3.015,3.025,3.035,3.045],"labels":false,"tickSize":-8,"title":null}},"y":{"field":"v","type":"quantitative","scale":{"domain":[-3,6],"nice":false,"zero":false},"axis":{"orient":"left","values":[-2.5,-1.5,-0.5,0.5,1.5,2.5,3.5,4.5,5.5],"labels":false,"tickSize":-8,"title":null}}}},
{"data":{"name":"dGrayM"},"mark":{"type":"point","filled":true,"opacity":1,"color":"#808080","shape":"circle","size":320},"encoding":{"x":{"field":"t","type":"quantitative","scale":{"domain":[3,3.05],"nice":false,"zero":false},"axis":{"orient":"top","values":[3.005,3.015,3.025,3.035,3.045],"labels":false,"tickSize":-8,"title":null}},"y":{"field":"v","type":"quantitative","scale":{"domain":[-3,6],"nice":false,"zero":false},"axis":{"orient":"right","values":[-2.5,-1.5,-0.5,0.5,1.5,2.5,3.5,4.5,5.5],"labels":false,"tickSize":-8,"title":null}}}},
{"data":{"name":"dBlackM"},"mark":{"type":"point","filled":true,"opacity":1,"color":"#000","shape":"square","size":300}},
{"data":{"name":"dBlueM"},"mark":{"type":"point","filled":true,"opacity":1,"color":"#0000ff","shape":"triangle-up","size":560}},
{"data":{"name":"dItalic"},"mark":{"type":"text","align":"left","baseline":"alphabetic","fontSize":47,"fontStyle":"italic"},"encoding":{"text":{"field":"label"}}},
{"data":{"name":"dSub"},"mark":{"type":"text","align":"left","baseline":"alphabetic","fontSize":34},"encoding":{"text":{"field":"label"}}},
{"data":{"name":"dCap"},"mark":{"type":"text","align":"center","baseline":"alphabetic","fontSize":47},"encoding":{"text":{"field":"label"}}}
]},
{"width":901,"height":665.5,"resolve":{"axis":{"x":"independent","y":"independent"}},
"encoding":{"x":{"field":"t","type":"quantitative","scale":{"domain":[3,3.05],"nice":false,"zero":false},"axis":null},"y":{"field":"v","type":"quantitative","scale":{"domain":[-5,25],"nice":false,"zero":false},"axis":null}},
"layer":[
{"data":{"name":"eBox"},"mark":{"type":"rect","color":"#fff"},"encoding":{"x":{"field":"t","type":"quantitative","scale":{"domain":[3,3.05],"nice":false,"zero":false},"axis":{"orient":"bottom","values":[3.01,3.02,3.03,3.04],"grid":true,"labels":false,"ticks":false,"title":null,"gridColor":"#808080","gridDash":[4,3],"gridWidth":1.5}},"x2":{"field":"t2"},"y":{"field":"v","type":"quantitative","scale":{"domain":[-5,25],"nice":false,"zero":false},"axis":{"orient":"left","values":[0,5,10,15,20],"grid":true,"labels":false,"ticks":false,"title":null,"gridColor":"#808080","gridDash":[4,3],"gridWidth":1.5}},"y2":{"field":"v2"}}},
{"data":{"name":"eBlack"},"mark":{"type":"line","color":"#000","strokeWidth":4,"interpolate":"monotone"},"encoding":{"detail":{"field":"k"},"x":{"field":"t","type":"quantitative","scale":{"domain":[3,3.05],"nice":false,"zero":false},"axis":{"orient":"bottom","values":[3,3.01,3.02,3.03,3.04,3.05],"format":".2f","tickSize":-15,"labelPadding":28.5,"title":"Time (ns)","titlePadding":32}},"y":{"field":"v","type":"quantitative","scale":{"domain":[-5,25],"nice":false,"zero":false},"axis":{"orient":"left","values":[-5,0,5,10,15,20,25],"labelExpr":"datum.value<0?'-'+abs(datum.value):''+datum.value","tickSize":-15,"labelPadding":31,"title":"Current (mA)","titlePadding":35}}}},
{"data":{"name":"eGray"},"mark":{"type":"line","color":"#808080","strokeWidth":4,"interpolate":"monotone"},"encoding":{"detail":{"field":"k"},"x":{"field":"t","type":"quantitative","scale":{"domain":[3,3.05],"nice":false,"zero":false},"axis":{"orient":"top","values":[3.01,3.02,3.03,3.04],"labels":false,"tickSize":-15,"title":null}},"y":{"field":"v","type":"quantitative","scale":{"domain":[-5,25],"nice":false,"zero":false},"axis":{"orient":"right","values":[0,5,10,15,20],"labels":false,"tickSize":-15,"title":null}}}},
{"data":{"name":"eBlue"},"mark":{"type":"line","color":"#0000ff","strokeWidth":4,"interpolate":"monotone"},"encoding":{"detail":{"field":"k"},"x":{"field":"t","type":"quantitative","scale":{"domain":[3,3.05],"nice":false,"zero":false},"axis":{"orient":"bottom","values":[3.005,3.015,3.025,3.035,3.045],"labels":false,"tickSize":-8,"title":null}},"y":{"field":"v","type":"quantitative","scale":{"domain":[-5,25],"nice":false,"zero":false},"axis":{"orient":"left","values":[-2.5,2.5,7.5,12.5,17.5,22.5],"labels":false,"tickSize":-8,"title":null}}}},
{"data":{"name":"eBlackM"},"mark":{"type":"point","filled":true,"opacity":1,"color":"#000","shape":"square","size":300},"encoding":{"x":{"field":"t","type":"quantitative","scale":{"domain":[3,3.05],"nice":false,"zero":false},"axis":{"orient":"top","values":[3.005,3.015,3.025,3.035,3.045],"labels":false,"tickSize":-8,"title":null}},"y":{"field":"v","type":"quantitative","scale":{"domain":[-5,25],"nice":false,"zero":false},"axis":{"orient":"right","values":[-2.5,2.5,7.5,12.5,17.5,22.5],"labels":false,"tickSize":-8,"title":null}}}},
{"data":{"name":"eGrayM"},"mark":{"type":"point","filled":true,"opacity":1,"color":"#808080","shape":"triangle-up","size":560}},
{"data":{"name":"eBlueM"},"mark":{"type":"point","filled":true,"opacity":1,"color":"#0000ff","shape":"circle","size":320}},
{"data":{"name":"eItalic"},"mark":{"type":"text","align":"left","baseline":"alphabetic","fontSize":47,"fontStyle":"italic"},"encoding":{"text":{"field":"label"}}},
{"data":{"name":"eSub"},"mark":{"type":"text","align":"left","baseline":"alphabetic","fontSize":34},"encoding":{"text":{"field":"label"}}},
{"data":{"name":"eCap"},"mark":{"type":"text","align":"center","baseline":"alphabetic","fontSize":47},"encoding":{"text":{"field":"label"}}}
]},
{"width":901,"height":665.5,"resolve":{"axis":{"x":"independent","y":"independent"}},
"encoding":{"x":{"field":"t","type":"quantitative","scale":{"domain":[3,3.05],"nice":false,"zero":false},"axis":null},"y":{"field":"v","type":"quantitative","scale":{"domain":[0,2],"nice":false,"zero":false},"axis":null}},
"layer":[
{"data":{"name":"fBox"},"mark":{"type":"rect","color":"#fff"},"encoding":{"x":{"field":"t","type":"quantitative","scale":{"domain":[3,3.05],"nice":false,"zero":false},"axis":{"orient":"bottom","values":[3.01,3.02,3.03,3.04],"grid":true,"labels":false,"ticks":false,"title":null,"gridColor":"#808080","gridDash":[4,3],"gridWidth":1.5}},"x2":{"field":"t2"},"y":{"field":"v","type":"quantitative","scale":{"domain":[0,2],"nice":false,"zero":false},"axis":{"orient":"left","values":[0.4,0.8,1.2,1.6],"grid":true,"labels":false,"ticks":false,"title":null,"gridColor":"#808080","gridDash":[4,3],"gridWidth":1.5}},"y2":{"field":"v2"}}},
{"data":{"name":"fGray"},"mark":{"type":"line","color":"#808080","strokeWidth":4,"interpolate":"monotone"},"encoding":{"x":{"field":"t","type":"quantitative","scale":{"domain":[3,3.05],"nice":false,"zero":false},"axis":{"orient":"bottom","values":[3,3.01,3.02,3.03,3.04,3.05],"format":".2f","tickSize":-15,"labelPadding":28.5,"title":"Time (ns)","titlePadding":32}},"y":{"field":"v","type":"quantitative","scale":{"domain":[0,2],"nice":false,"zero":false},"axis":{"orient":"left","values":[0,0.4,0.8,1.2,1.6,2],"format":".1f","tickSize":-15,"labelPadding":31,"title":"Voltage (V)","titlePadding":25}}}},
{"data":{"name":"fCyan"},"mark":{"type":"line","color":"#00ffff","strokeWidth":4,"interpolate":"monotone"},"encoding":{"x":{"field":"t","type":"quantitative","scale":{"domain":[3,3.05],"nice":false,"zero":false},"axis":{"orient":"top","values":[3.01,3.02,3.03,3.04],"labels":false,"tickSize":-15,"title":null}},"y":{"field":"v","type":"quantitative","scale":{"domain":[0,2],"nice":false,"zero":false},"axis":{"orient":"right","values":[0.4,0.8,1.2,1.6],"labels":false,"tickSize":-15,"title":null}}}},
{"data":{"name":"fBlack"},"mark":{"type":"line","color":"#000","strokeWidth":4,"interpolate":"monotone"},"encoding":{"x":{"field":"t","type":"quantitative","scale":{"domain":[3,3.05],"nice":false,"zero":false},"axis":{"orient":"bottom","values":[3.005,3.015,3.025,3.035,3.045],"labels":false,"tickSize":-8,"title":null}},"y":{"field":"v","type":"quantitative","scale":{"domain":[0,2],"nice":false,"zero":false},"axis":{"orient":"left","values":[0.2,0.6,1.0,1.4,1.8],"labels":false,"tickSize":-8,"title":null}}}},
{"data":{"name":"fBlue"},"mark":{"type":"line","color":"#0000ff","strokeWidth":4,"interpolate":"monotone"},"encoding":{"x":{"field":"t","type":"quantitative","scale":{"domain":[3,3.05],"nice":false,"zero":false},"axis":{"orient":"top","values":[3.005,3.015,3.025,3.035,3.045],"labels":false,"tickSize":-8,"title":null}},"y":{"field":"v","type":"quantitative","scale":{"domain":[0,2],"nice":false,"zero":false},"axis":{"orient":"right","values":[0.2,0.6,1.0,1.4,1.8],"labels":false,"tickSize":-8,"title":null}}}},
{"data":{"name":"fArrows"},"mark":{"type":"line","color":"#000","strokeWidth":4,"order":false},"encoding":{"detail":{"field":"p"}}},
{"data":{"name":"fHeads"},"mark":{"type":"point","filled":true,"color":"#000","opacity":1,"size":1900,"shape":"M0,-0.5L0.4,0.5L-0.4,0.5Z"},"encoding":{"angle":{"field":"a","type":"quantitative","scale":null}}},
{"data":{"name":"fItalic"},"mark":{"type":"text","align":"left","baseline":"alphabetic","fontSize":47,"fontStyle":"italic"},"encoding":{"text":{"field":"label"}}},
{"data":{"name":"fSub"},"mark":{"type":"text","align":"left","baseline":"alphabetic","fontSize":34},"encoding":{"text":{"field":"label"}}},
{"data":{"name":"fCap"},"mark":{"type":"text","align":"center","baseline":"alphabetic","fontSize":47},"encoding":{"text":{"field":"label"}}}
]}
],"spacing":193,"bounds":"flush"}
]}
